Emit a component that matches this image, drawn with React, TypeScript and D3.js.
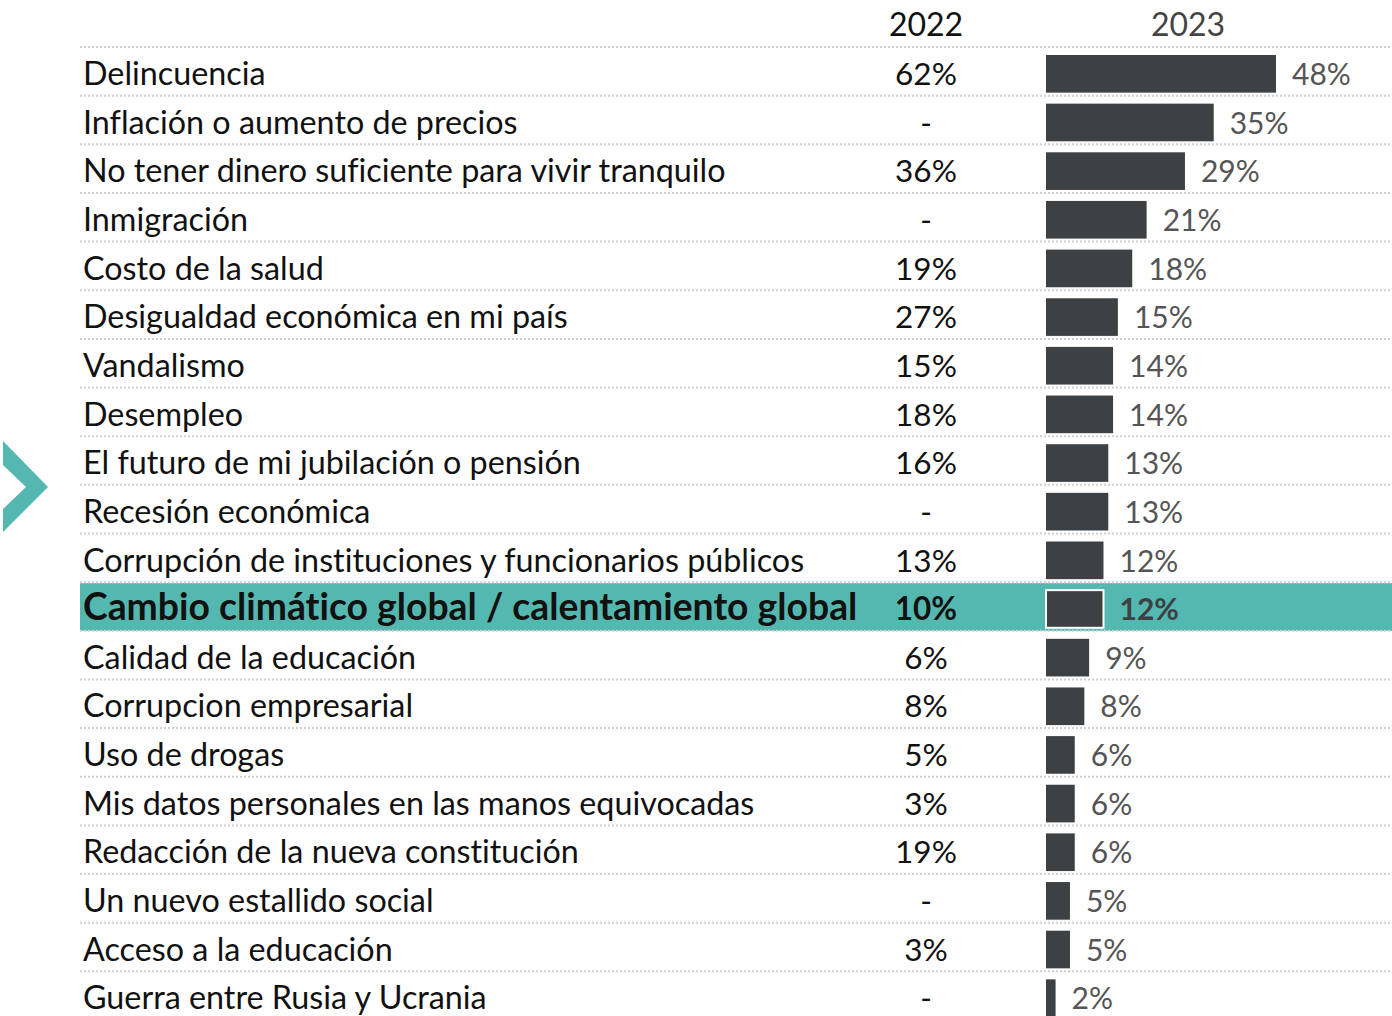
import React from "react";
import * as d3 from "d3";

const categories = [
  "Delincuencia",
  "Inflación o aumento de precios",
  "No tener dinero suficiente para vivir tranquilo",
  "Inmigración",
  "Costo de la salud",
  "Desigualdad económica en mi país",
  "Vandalismo",
  "Desempleo",
  "El futuro de mi jubilación o pensión",
  "Recesión económica",
  "Corrupción de instituciones y funcionarios públicos",
  "Cambio climático global / calentamiento global",
  "Calidad de la educación",
  "Corrupcion empresarial",
  "Uso de drogas",
  "Mis datos personales en las manos equivocadas",
  "Redacción de la nueva constitución",
  "Un nuevo estallido social",
  "Acceso a la educación",
  "Guerra entre Rusia y Ucrania",
];

const values2022: (number | null)[] = [
  62, null, 36, null, 19, 27, 15, 18, 16, null, 13, 10, 6, 8, 5, 3, 19, null, 3, null,
];

const values2023 = [48, 35, 29, 21, 18, 15, 14, 14, 13, 13, 12, 12, 9, 8, 6, 6, 6, 5, 5, 2];

const columnHeaders = ["2022", "2023"];
const highlighted = "Cambio climático global / calentamiento global";

const W = 1392;
const H = 1016;
const FONT = "Lato, 'Open Sans', sans-serif";

export default function App() {
  const y = d3
    .scaleBand<string>()
    .domain(categories)
    .range([47, 47 + categories.length * 48.65])
    .padding(0);
  const x = d3.scaleLinear().domain([0, 48]).range([1046, 1276]);
  const rowH = y.bandwidth();
  const col2022 = 926;

  const lines = categories.map((c) => y(c) as number);
  lines.push((y(categories[categories.length - 1]) as number) + rowH);

  return (
    <svg
      width={W}
      height={H}
      style={{ position: "absolute", left: 0, top: 0, background: "#fff", fontVariantLigatures: "none" }}
      fontFamily={FONT}
    >
      <rect x={0} y={0} width={W} height={H} fill="#fff" />
      {categories.map((c) =>
        c === highlighted ? (
          <rect
            key={"hl" + c}
            x={80}
            y={(y(c) as number) + 1}
            width={W - 80}
            height={rowH - 1}
            fill="#55b8b0"
          />
        ) : null
      )}
      {lines.map((ly, i) => (
        <line
          key={"l" + i}
          x1={80}
          x2={W}
          y1={ly}
          y2={ly}
          stroke="#cfcfcf"
          strokeWidth={2}
          strokeDasharray="2,2"
        />
      ))}
      <text x={col2022} y={36} textAnchor="middle" fontSize={32} fill="#111">
        {columnHeaders[0]}
      </text>
      <text x={1188} y={36} textAnchor="middle" fontSize={32} fill="#444">
        {columnHeaders[1]}
      </text>
      <path d="M3,441 L48,487 L3,532 L3,509 L26,487 L3,465 Z" fill="#55b8b0" />
      {categories.map((c, i) => {
        const top = y(c) as number;
        const hl = c === highlighted;
        const v22 = values2022[i];
        const v23 = values2023[i];
        const baseline = top + 38;
        return (
          <g key={c}>
            <text
              x={83}
              y={baseline}
              fontSize={hl ? 37.3 : 32.3}
              fontWeight={hl ? 700 : 400}
              fill="#111"
            >
              {c}
            </text>
            <text
              x={col2022}
              y={baseline}
              textAnchor="middle"
              fontSize={31.5}
              fontWeight={hl ? 700 : 400}
              fill="#111"
            >
              {v22 === null ? "-" : `${v22}%`}
            </text>
            <rect
              x={x(0)}
              y={top + 8}
              width={x(v23) - x(0)}
              height={rowH - 11}
              fill="#3d4144"
              stroke={hl ? "#fff" : "none"}
              strokeWidth={hl ? 2 : 0}
            />
            <text
              x={x(v23) + 16}
              y={baseline}
              fontSize={30}
              fontWeight={hl ? 700 : 400}
              fill={hl ? "#3d4144" : "#555"}
            >
              {`${v23}%`}
            </text>
          </g>
        );
      })}
    </svg>
  );
}
